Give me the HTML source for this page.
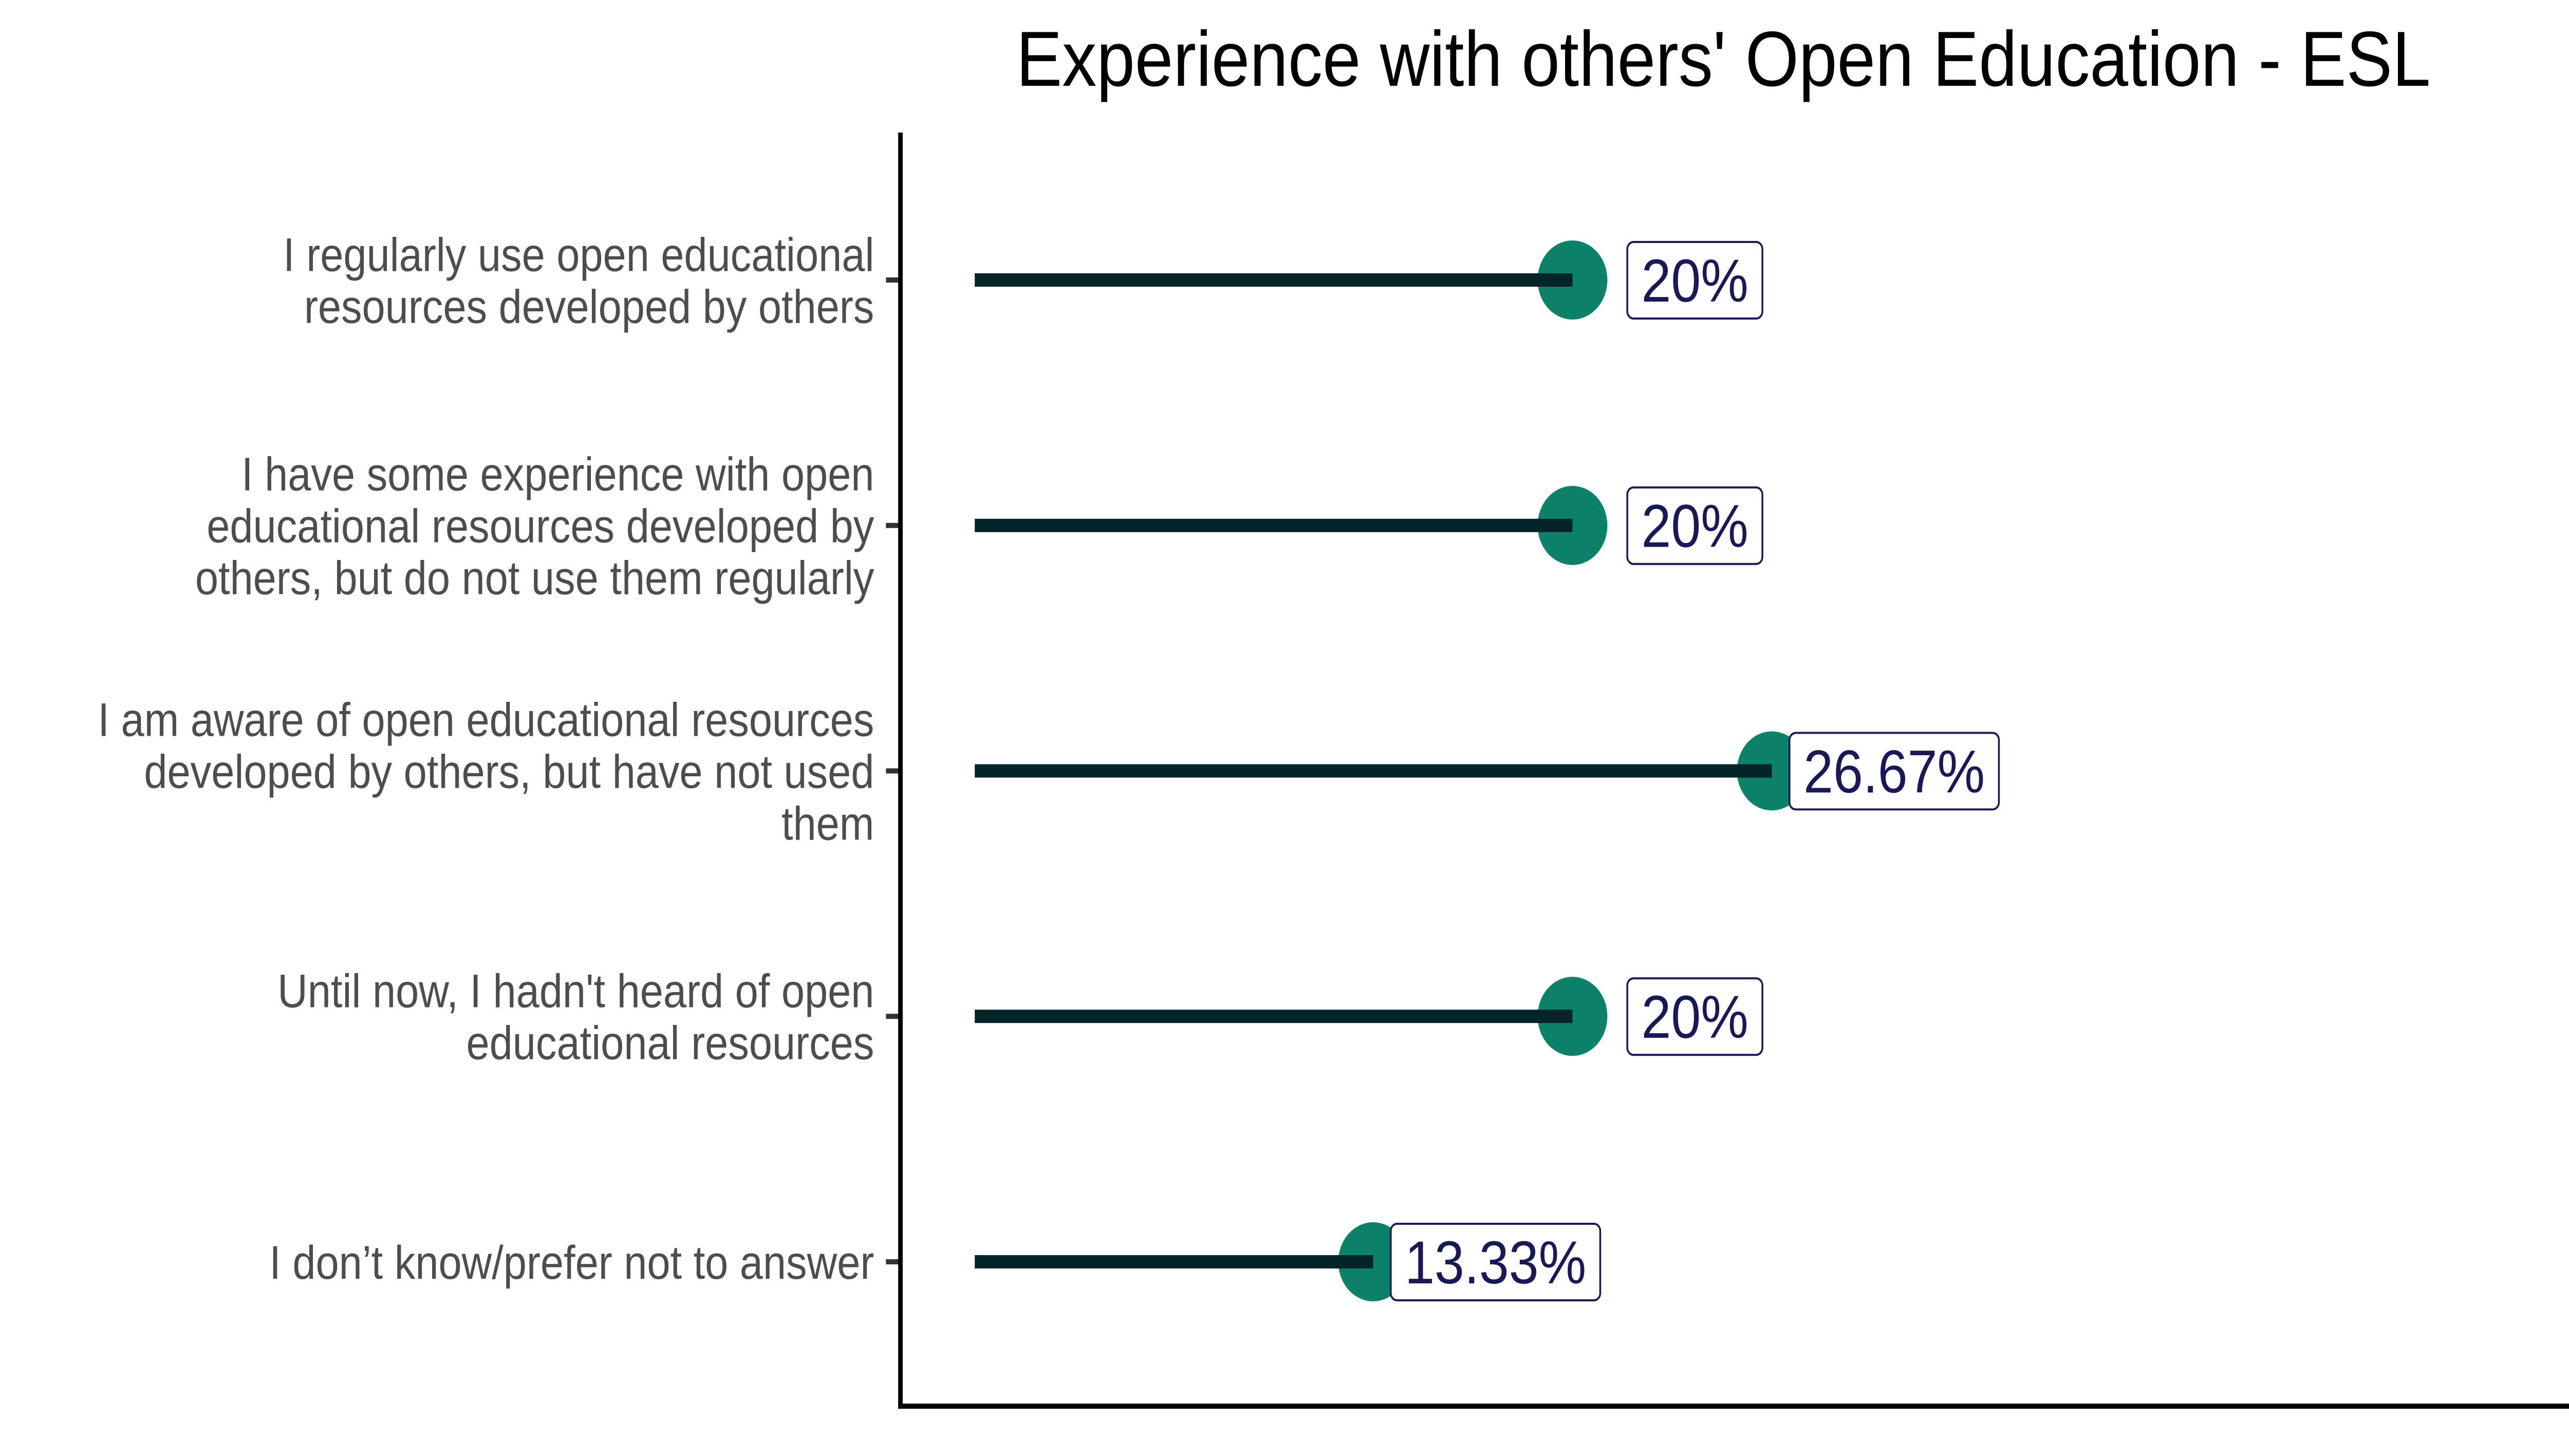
<!DOCTYPE html>
<html><head><meta charset="utf-8"><style>
html,body{margin:0;padding:0;background:#fff;overflow:hidden;width:100%;height:100%;}
svg{display:block;width:100vw;height:100vh;}
</style></head><body>
<svg id="chart" viewBox="0 0 5669 2834" preserveAspectRatio="none" xmlns="http://www.w3.org/2000/svg" font-family="'Liberation Sans', Arial, sans-serif">
<rect width="5669" height="2834" fill="#fff"/>
<text x="3803" y="167" font-size="152" text-anchor="middle" fill="#000">Experience with others' Open Education - ESL</text>
<g id="plot"></g>
<line x1="1987" y1="258" x2="1987" y2="2742" stroke="#000" stroke-width="10"/>
<line x1="1982" y1="2737" x2="5669" y2="2737" stroke="#000" stroke-width="10"/>
</svg>
<script>
const categories = [
  ["I regularly use open educational", "resources developed by others"],
  ["I have some experience with open", "educational resources developed by", "others, but do not use them regularly"],
  ["I am aware of open educational resources", "developed by others, but have not used", "them"],
  ["Until now, I hadn't heard of open", "educational resources"],
  ["I don\u2019t know/prefer not to answer"]
];
const values = [20, 20, 26.67, 20, 13.33];
const valueLabels = ["20%", "20%", "26.67%", "20%", "13.33%"];

const NS = "http://www.w3.org/2000/svg";
const x0 = 2151, pxPerUnit = 65.95;
function xScale(v){ return x0 + v * pxPerUnit; }
function yScale(i){ return 545 + i * 477.75; }
const plot = document.getElementById('plot');
function mk(tag, attrs){ const e = document.createElementNS(NS, tag); for (const k in attrs) e.setAttribute(k, attrs[k]); plot.appendChild(e); return e; }

categories.forEach((lines, i) => {
  const y = yScale(i);
  const tick = mk('line', {x1:1955, y1:y, x2:1987, y2:y, stroke:'#333', 'stroke-width':10});
  
  
  const n = lines.length;
  lines.forEach((ln, j) => {
    const t = mk('text', {x:1929, y: y - (n-1)*101/2 + j*101 + 33, 'font-size':92, 'text-anchor':'end', fill:'#4d4d4d'});
    t.textContent = ln;
    
    
  });
});

values.forEach((v, i) => {
  const y = yScale(i), x = xScale(v);
  const c = mk('circle', {cx:x, cy:y, r:77, fill:'#0c8268'});
  
  
  const s = mk('rect', {x:x0, y:y-13, width:x-x0, height:26, fill:'#022428'});
  
  
  const label = valueLabels[i];
  const cx = x + 270;
  const t = mk('text', {x:cx, y:y+42, 'font-size':118, 'text-anchor':'middle', fill:'#191957'});
  t.textContent = label;
  let w = 0;
  try { w = t.getComputedTextLength(); } catch(e) { w = 0; }
  if (!w) w = label.length * 66;
  const bw = w + 62;
  const b = mk('rect', {x:cx - bw/2, y:y-74, width:bw, height:149, rx:14, ry:14, fill:'#fff', stroke:'#191957', 'stroke-width':4});
  
  
  plot.appendChild(t);
  
  
});
</script>
</body></html>
